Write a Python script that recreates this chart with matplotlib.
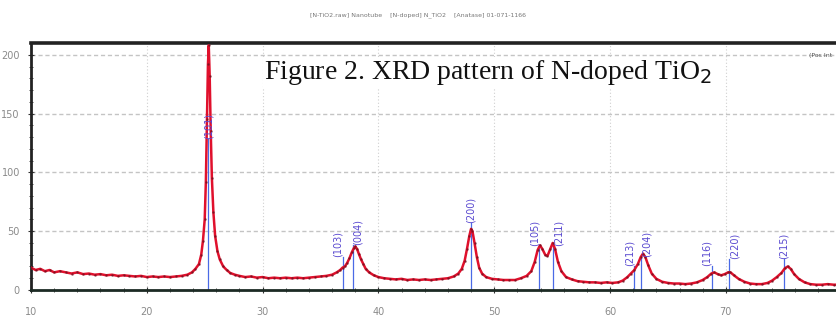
import matplotlib
matplotlib.use("Agg")
import matplotlib.pyplot as plt
from matplotlib.ticker import MultipleLocator

two_theta = [
    10.0, 10.4, 10.8, 11.2, 11.6, 12.0, 12.5, 13.0, 13.5, 14.0, 14.5, 15.0,
    15.5, 16.0, 16.5, 17.0, 17.5, 18.0, 18.5, 19.0, 19.5, 20.0, 20.5, 21.0,
    21.5, 22.0, 22.5, 23.0, 23.5, 23.9, 24.2, 24.5, 24.7, 24.85, 25.0, 25.1,
    25.2, 25.28, 25.35, 25.43, 25.52, 25.62, 25.75, 25.9, 26.1, 26.3, 26.6,
    26.9, 27.2, 27.6, 28.0, 28.5, 29.0, 29.5, 30.0, 30.5, 31.0, 31.5, 32.0,
    32.5, 33.0, 33.5, 34.0, 34.5, 35.0, 35.5, 36.0, 36.4, 36.7, 36.9, 37.1,
    37.3, 37.5, 37.7, 37.9, 38.0, 38.15, 38.3, 38.5, 38.7, 38.9, 39.2, 39.6,
    40.0, 40.5, 41.0, 41.5, 42.0, 42.5, 43.0, 43.5, 44.0, 44.5, 45.0, 45.5,
    46.0, 46.5, 46.9, 47.2, 47.45, 47.65, 47.85, 48.0, 48.12, 48.3, 48.5,
    48.7, 48.95, 49.3, 49.8, 50.3, 50.8, 51.3, 51.8, 52.3, 52.8, 53.2, 53.5,
    53.75, 53.95, 54.15, 54.4, 54.6, 54.85, 55.05, 55.25, 55.5, 55.8, 56.2,
    56.7, 57.2, 57.7, 58.2, 58.7, 59.2, 59.7, 60.2, 60.7, 61.1, 61.5, 61.8,
    62.1, 62.4, 62.65, 62.85, 63.05, 63.3, 63.6, 64.0, 64.5, 65.0, 65.5,
    66.0, 66.5, 67.0, 67.5, 68.0, 68.4, 68.75, 69.0, 69.3, 69.6, 69.9, 70.2,
    70.4, 70.7, 71.1, 71.6, 72.1, 72.6, 73.1, 73.6, 74.0, 74.4, 74.8, 75.1,
    75.35, 75.6, 75.9, 76.3, 76.8, 77.3, 77.8, 78.3, 78.8, 79.3, 79.6,
]
counts = [
    19, 17, 18, 16, 17, 15, 16, 15, 14, 15, 13.5, 14,
    13, 13.5, 12.5, 13, 12, 12.5, 12, 11.5, 12, 11, 11.5, 11,
    11.5, 11, 11.5, 12, 13, 15, 18, 22, 30, 42, 60, 92,
    145, 192, 208, 182, 135, 95, 66, 46, 33, 26, 20,
    17, 14.5, 13, 12, 11, 11.5, 10.5, 11, 10, 10.5, 10, 10.5,
    10, 10.5, 10, 10.5, 11, 11.5, 12, 13, 15, 17, 19, 20,
    23, 27, 32, 36, 37, 35, 31, 26, 22, 18, 15, 12.5,
    11, 10, 9.5, 9, 9.5, 8.5, 9, 8.5, 9, 8.5, 9, 9.5,
    10, 11.5, 14, 18, 25, 35, 46, 52, 50, 40, 28,
    19, 14, 11, 9.5, 9, 8.5, 8.5, 8.5, 10, 12, 16, 24,
    34, 38, 35, 30, 29, 35, 40, 35, 24, 16, 11,
    9, 7.5, 7, 6.5, 6.5, 6, 6.5, 6, 6.5, 8, 11, 14,
    17, 22, 28, 31, 28, 21, 14, 9.5, 7, 6, 5.5,
    5.5, 5, 5.5, 6.5, 8.5, 11, 14, 15, 13.5, 12.5, 13.5, 15,
    15, 12.5, 9.5, 7, 5.5, 5, 5, 6, 8, 11, 14.5, 18.5,
    20, 18, 13.5, 9.5, 6.5, 5, 4.5, 4.5, 5, 4.5, 4.5,
]

# reference lines (anatase) and their hkl labels
ref_pos = [25.3, 36.9, 37.8, 48.0, 53.9, 55.1, 62.1, 62.7, 68.8, 70.3, 75.0]
ref_hkl = ["(101)", "(103)", "(004)", "(200)", "(105)", "(211)",
           "(213)", "(204)", "(116)", "(220)", "(215)"]
label_base = [128, 28, 38, 57, 37, 37, 20, 28, 20, 26, 26]
label_side = ["center", "right", "left", "center", "right", "left",
              "right", "left", "right", "left", "center"]

x_ticks = [10, 20, 30, 40, 50, 60, 70]
y_ticks = [0, 50, 100, 150, 200]

fig = plt.figure(figsize=(8.37, 3.29), dpi=100)
ax = fig.add_axes([31 / 837, 1 - 290 / 329, 806 / 837, 247 / 329])

ax.set_xlim(10, 79.6)
ax.set_ylim(0, 210)

# grid
for yv in y_ticks[1:]:
    ax.axhline(yv, color="#c4c4c4", lw=1.0, ls=(0, (3, 2)), zorder=0)
for xv in x_ticks[1:]:
    ax.axvline(xv, color="#cfcfcf", lw=0.8, ls=(0, (1, 2)), zorder=0)

# reference sticks
for pos, hkl, base, side in zip(ref_pos, ref_hkl, label_base, label_side):
    ax.plot([pos, pos], [0, base], color="#4a6ae6", lw=0.9, zorder=2)
    ax.text(pos, base, hkl, rotation=90, ha=side, va="bottom",
            fontsize=7, color="#5a4ad0", zorder=4)

# measured pattern
ax.plot(two_theta, counts, color="#e0102c", lw=1.8, zorder=3)
ax.plot(two_theta, counts, ls="none", marker=".", ms=1.8,
        color="#701020", alpha=0.6, zorder=3)

ax.set_xticks(x_ticks)
ax.set_yticks(y_ticks)
ax.xaxis.set_minor_locator(MultipleLocator(2))
ax.yaxis.set_minor_locator(MultipleLocator(10))
ax.tick_params(axis="both", which="major", labelsize=7, labelcolor="#8a8a8a",
               color="#333333", length=4, direction="inout")
ax.tick_params(axis="both", which="minor", color="#333333", length=3,
               direction="inout")
ax.tick_params(axis="x", pad=10)
ax.tick_params(axis="y", pad=6)

ax.spines["right"].set_visible(False)
ax.spines["top"].set_linewidth(2.6)
ax.spines["top"].set_color("#222222")
ax.spines["left"].set_linewidth(2.0)
ax.spines["left"].set_color("#222222")
ax.spines["bottom"].set_linewidth(2.0)
ax.spines["bottom"].set_color("#1c2a24")

# figure caption written on the chart
ax.text(0.567, 0.88, "Figure 2. XRD pattern of N-doped TiO$_2$",
        transform=ax.transAxes, ha="center", va="center",
        family="Liberation Serif", fontsize=20, color="#111111",
        bbox=dict(facecolor="white", edgecolor="none", pad=1), zorder=5)

# small header and corner note from the original software export
fig.text(0.5, 0.955, "[N-TiO2.raw] Nanotube    [N-doped] N_TiO2    [Anatase] 01-071-1166",
         ha="center", va="center", fontsize=4.5, color="#777777")
ax.text(0.965, 0.96, "(Pos Int", transform=ax.transAxes, ha="left",
        va="top", fontsize=4.5, color="#555555")

fig.savefig("out.png", dpi=100)
